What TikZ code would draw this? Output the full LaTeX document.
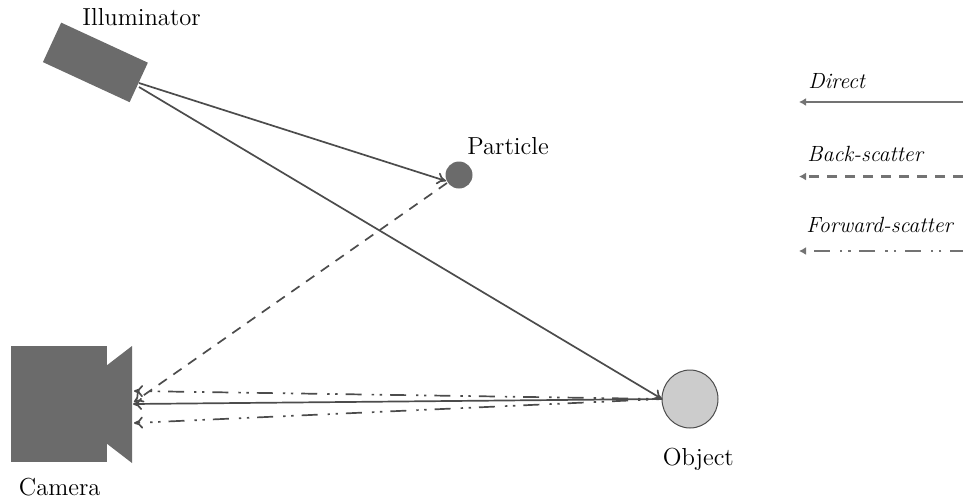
\documentclass[tikz,border=0pt]{standalone}
\usepackage{fontspec}
\usetikzlibrary{arrows.meta,shapes.geometric}
\definecolor{solidgray}{gray}{0.42}
\definecolor{linegray}{gray}{0.30}
\definecolor{legendgray}{gray}{0.45}
\definecolor{objgray}{gray}{0.80}
\tikzset{
  x=0.5pt,y=-0.5pt,
  label text/.style={inner sep=0pt,anchor=base west,font=\fontsize{12.3}{14}\selectfont},
  legend text/.style={inner sep=0pt,anchor=base west,font=\fontsize{11}{13}\selectfont\itshape},
  solid shape/.style={fill=solidgray,draw=none,inner sep=0pt},
  ray/.style={draw=linegray,line width=0.85pt,-{To[length=4.5pt,width=6pt]}},
  backray/.style={ray,dash pattern=on 5pt off 4pt},
  fwdray/.style={ray,dash pattern=on 8pt off 4pt on 1.2pt off 2.8pt on 1.2pt off 5pt,dash phase=5.2pt},
  legendline/.style={draw=legendgray,line width=1.1pt,-{Latex[length=3.5pt,width=4pt]}},
}
\begin{document}
\begin{tikzpicture}
\useasboundingbox (0,0) rectangle (963,499);
% shapes
\node[solid shape,rectangle,rotate=-24.8,minimum width=47.75pt,minimum height=21.75pt] (illum) at (95.4,62.4) {};
\node[solid shape,rectangle,minimum width=48pt,minimum height=58pt] (cambody) at (59,404) {};
\fill[solidgray] (106,366) -- (132,346) -- (132,463) -- (106,443) -- cycle;
\node[solid shape,circle,minimum size=13.5pt] (particle) at (459,175) {};
\node[ellipse,fill=objgray,draw=linegray,line width=0.5pt,inner sep=0pt,minimum width=28pt,minimum height=29pt] (object) at (690,399) {};
% free ends
\coordinate (illumA) at (139,83);
\coordinate (illumB) at (139,87);
\coordinate (partIn) at (446,181);
\coordinate (partOut) at (447,183);
\coordinate (camTop) at (134,391);
\coordinate (camBack) at (134,402);
\coordinate (camMid) at (133,404);
\coordinate (camBot) at (134,423);
\coordinate (objIn) at (662,399);
% rays
\draw[ray] (illumA) -- (partIn);
\draw[ray] (illumB) -- (objIn);
\draw[backray] (partOut) -- (camBack);
\draw[ray] (objIn) -- (camMid);
\draw[fwdray] (objIn) -- (camTop);
\draw[fwdray] (objIn) -- (camBot);
% labels
\node[label text] (lillum) at (82,25) {Illuminator};
\node[label text] (lpart) at (467,154) {Particle};
\node[label text] (lobj) at (662.5,465) {Object};
\node[label text] (lcam) at (18.5,495) {Camera};
% legend
\node[legend text] (ldirect) at (808,88) {Direct};
\node[legend text] (lback) at (807,161) {Back-scatter};
\node[legend text] (lfwd) at (806,232) {Forward-scatter};
\coordinate (d1) at (963,102); \coordinate (d2) at (799,102);
\coordinate (b1) at (963,176.5); \coordinate (b2) at (799,176.5);
\coordinate (f1) at (963,251); \coordinate (f2) at (799,251);
\draw[legendline] (d1) -- (d2);
\draw[legendline,dash pattern=on 5pt off 4pt] (b1) -- (b2);
\draw[legendline,dash pattern=on 8pt off 4.3pt on 1.2pt off 3pt on 1.2pt off 5pt,dash phase=1.5pt] (f1) -- (f2);
\end{tikzpicture}
\end{document}
